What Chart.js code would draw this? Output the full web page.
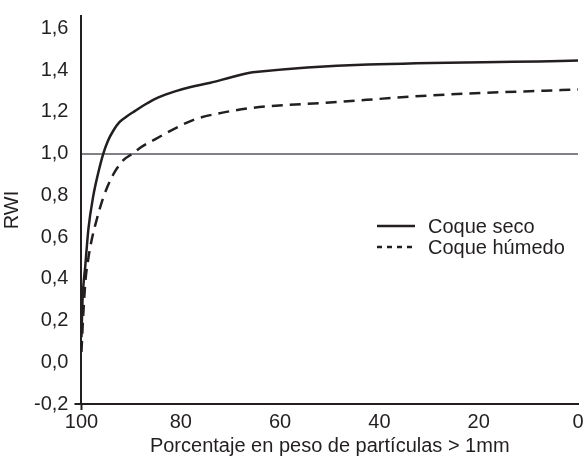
<!DOCTYPE html>
<html>
<head>
<meta charset="utf-8">
<script src="https://cdn.jsdelivr.net/npm/chart.js@4.4.1/dist/chart.umd.min.js"></script>
<style>
  html, body { margin: 0; padding: 0; background: #fff; }
  #wrap { width: 585px; height: 460px; }
</style>
</head>
<body>
<div id="wrap"><canvas id="myChart"></canvas></div>
<script>
// values
let secoX = [100, 99.8, 99.2, 98.6, 97.6, 96.7, 95.6, 94.7, 93.6, 92.4, 91.1, 89.2, 87.1, 84.5, 81, 78, 74, 70, 65.5, 0];
let secoY = [0.12, 0.29, 0.47, 0.64, 0.8, 0.9, 1.0, 1.06, 1.11, 1.15, 1.175, 1.205, 1.237, 1.27, 1.3, 1.32, 1.34, 1.365, 1.39, 1.447];
let humedoX = [100, 99.7, 99.2, 98.6, 98, 97.2, 95.6, 93.6, 91.5, 89.7, 88.1, 85.1, 81.5, 77.1, 73, 65.4, 50, 29.2, 0];
let humedoY = [0.05, 0.2, 0.39, 0.5, 0.58, 0.66, 0.79, 0.9, 0.97, 1.0, 1.03, 1.07, 1.117, 1.165, 1.19, 1.22, 1.245, 1.28, 1.308];
let seriesLabels = ["Coque seco", "Coque húmedo"];
let xTicks = [100, 80, 60, 40, 20, 0];
let yTicks = [-0.2, 0, 0.2, 0.4, 0.6, 0.8, 1.0, 1.2, 1.4, 1.6];
let refRWI = 1.0;

const ink = "#231f20";
const grey = "#808285";
const font = { family: "'Liberation Sans', Arial, sans-serif", size: 20 };

function toPoints(xs, ys) {
  return xs.map((x, i) => ({ x: x, y: ys[i] }));
}

// legend drawn inside the plot, like the original
const innerLegend = {
  id: "innerLegend",
  afterDraw(chart) {
    let ctx = chart.ctx;
    let x0 = 377, y0 = 226, gap = 21;
    ctx.save();
    ctx.font = font.size + "px " + font.family;
    ctx.fillStyle = ink;
    ctx.textBaseline = "middle";
    chart.data.datasets.forEach((ds, i) => {
      let y = y0 + i * gap;
      ctx.strokeStyle = ink;
      ctx.lineWidth = 2.5;
      ctx.setLineDash(i === 0 ? [] : [5, 5]);
      ctx.beginPath();
      ctx.moveTo(x0, y);
      ctx.lineTo(x0 + 38, y);
      ctx.stroke();
      ctx.fillText(ds.label, x0 + 51, y + 1);
    });
    ctx.restore();
  }
};

let ctx = document.getElementById("myChart").getContext("2d");
let chart = new Chart(ctx, {
  type: "line",
  data: {
    datasets: [
      {
        label: seriesLabels[0],
        data: toPoints(secoX, secoY),
        borderColor: ink,
        borderWidth: 2.5,
        pointRadius: 0,
        cubicInterpolationMode: "monotone",
        fill: false
      },
      {
        label: seriesLabels[1],
        data: toPoints(humedoX, humedoY),
        borderColor: ink,
        borderWidth: 2.5,
        borderDash: [11, 7],
        pointRadius: 0,
        cubicInterpolationMode: "monotone",
        fill: false
      }
    ]
  },
  options: {
    responsive: true,
    maintainAspectRatio: false,
    animation: false,
    layout: { padding: { top: 13, right: 7, left: 0, bottom: 2 } },
    plugins: {
      legend: { display: false },
      tooltip: { enabled: false }
    },
    scales: {
      x: {
        type: "linear",
        reverse: true,
        min: 0,
        max: 100,
        afterBuildTicks: (scale) => {
          scale.ticks = xTicks.map(v => ({ value: v }));
        },
        border: { color: ink, width: 2 },
        grid: {
          drawOnChartArea: false,
          tickLength: 6,
          tickWidth: 2,
          tickColor: (c) => (c.tick && c.tick.value === 100 ? ink : "transparent")
        },
        ticks: {
          color: ink,
          font: font,
          padding: 0,
          maxRotation: 0
        },
        title: {
          display: true,
          text: "Porcentaje en peso de partículas > 1mm",
          color: ink,
          font: font,
          padding: { top: 0, bottom: 0 }
        }
      },
      y: {
        type: "linear",
        min: -0.2,
        max: 1.66,
        afterBuildTicks: (scale) => {
          scale.ticks = yTicks.map(v => ({ value: v }));
        },
        border: { color: ink, width: 2 },
        grid: {
          drawOnChartArea: true,
          tickLength: 7,
          tickWidth: 2,
          lineWidth: 2,
          color: (c) => (c.tick && Math.abs(c.tick.value - refRWI) < 1e-6 ? grey : "transparent"),
          tickColor: (c) => (c.tick && Math.abs(c.tick.value + 0.2) < 1e-6 ? ink : "transparent")
        },
        ticks: {
          color: ink,
          font: { family: font.family, size: font.size, lineHeight: 1 },
          padding: 6,
          callback: (v) => v.toFixed(1).replace(".", ",")
        },
        title: {
          display: true,
          text: "RWI",
          color: ink,
          font: font,
          padding: { top: 0, bottom: 4 }
        }
      }
    }
  },
  plugins: [innerLegend]
});
</script>
</body>
</html>
